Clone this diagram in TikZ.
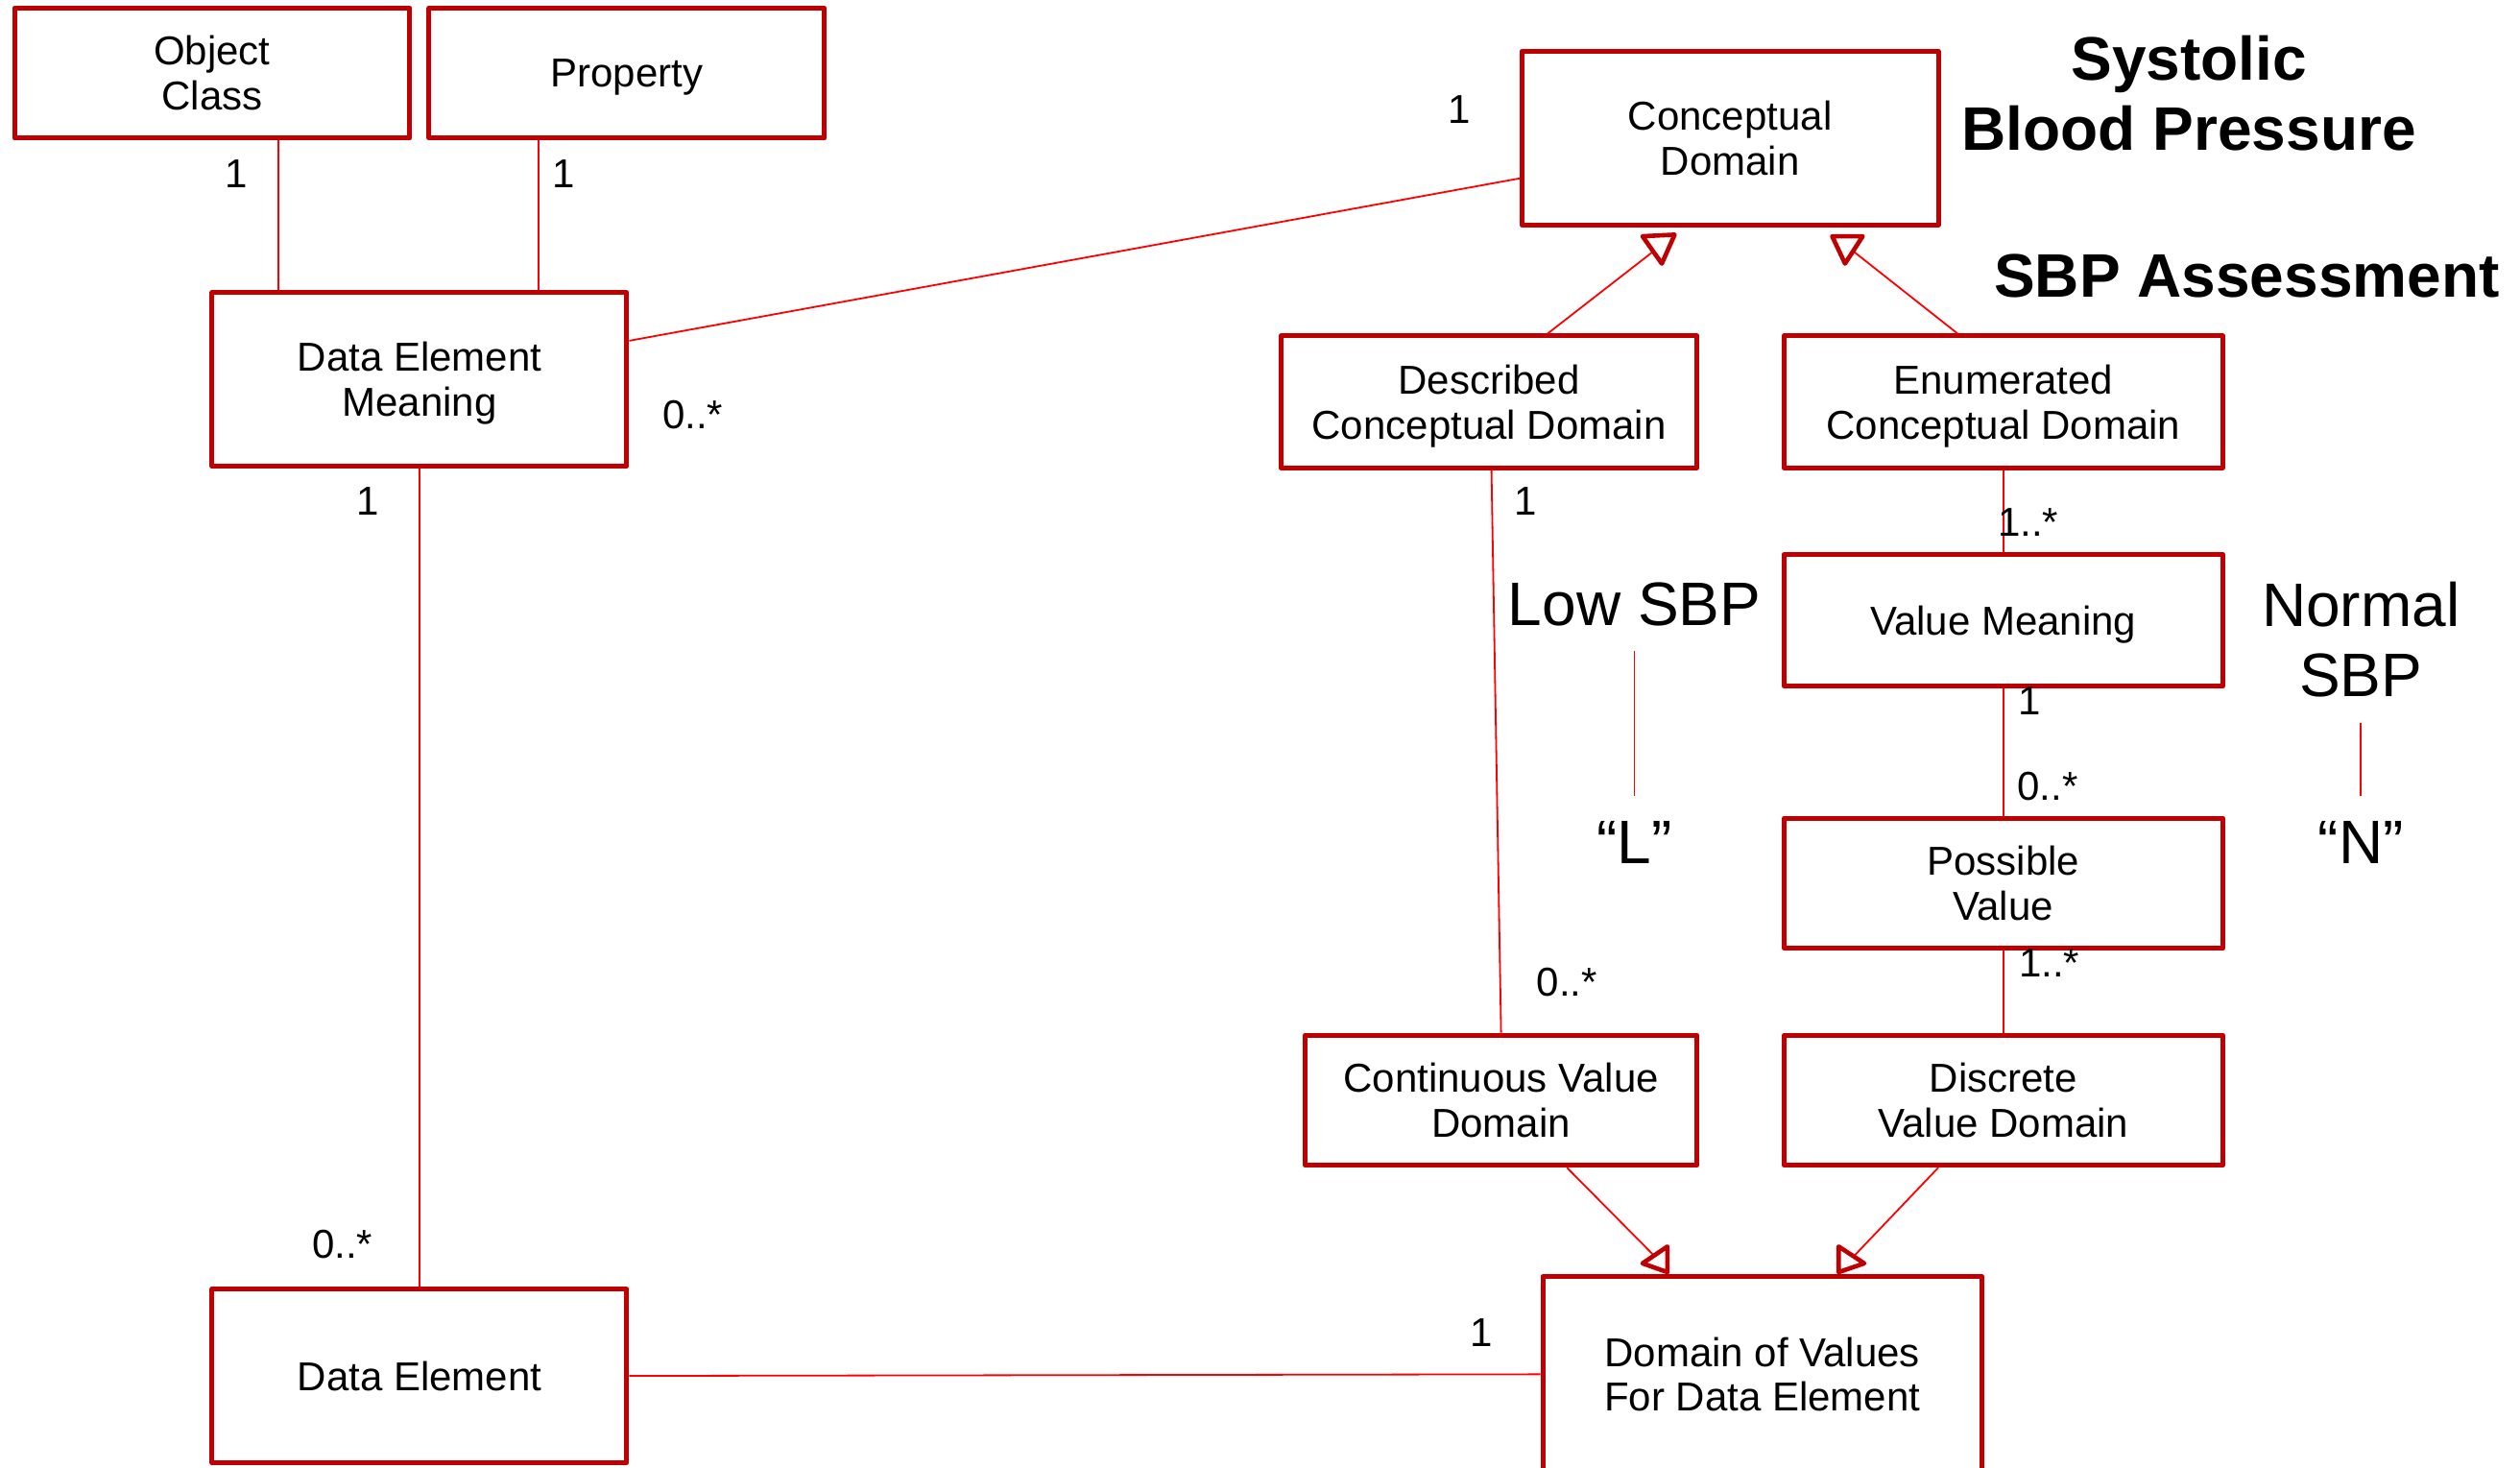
\documentclass[tikz,border=0pt]{standalone}
\usepackage{fontspec}
\setmainfont{Liberation Sans}
\newdimen\px \px=0.8371pt
\definecolor{boxred}{RGB}{192,0,0}
\definecolor{linkred}{RGB}{255,0,0}
\tikzset{
  umlbox/.style={draw=boxred, line width=2.5pt, line join=round, align=center,
    inner sep=0pt, text depth=0pt, font=\fontsize{21}{23.4}\selectfont},
  link/.style={draw=linkred, line width=0.9pt},
  mult/.style={inner sep=0pt, font=\fontsize{21}{24}\selectfont},
  big/.style={inner sep=0pt, align=center, font=\fontsize{32}{36.8}\selectfont},
  headline/.style={inner sep=0pt, align=center, font=\fontsize{32}{36.8}\selectfont\bfseries},
  genhead/.style={draw=boxred, line width=2.3pt, line join=round, fill=white},
}
\begin{document}
\begin{tikzpicture}[x=0.8371pt, y=-0.8371pt]
\useasboundingbox[fill=white] (0,0) rectangle (1568,913);

% classes
\node[umlbox, minimum width=246\px, minimum height=81\px] (oc) at (132,45.5) {Object\\Class};
\node[umlbox, minimum width=246\px, minimum height=81\px] (prop) at (390,45.5) {Property};
\node[umlbox, minimum width=258\px, minimum height=108\px] (dem) at (261,236) {Data Element\\Meaning};
\node[umlbox, minimum width=259\px, minimum height=108\px] (cd) at (1076.5,86) {Conceptual\\Domain};
\node[umlbox, minimum width=259\px, minimum height=82\px] (dcd) at (926.5,250) {Described\\Conceptual Domain};
\node[umlbox, minimum width=273\px, minimum height=82\px] (ecd) at (1246.5,250) {Enumerated\\Conceptual Domain};
\node[umlbox, minimum width=273\px, minimum height=82\px] (vm) at (1246.5,386) {Value Meaning};
\node[umlbox, minimum width=273\px, minimum height=81\px] (pv) at (1246.5,549.5) {Possible\\Value};
\node[umlbox, minimum width=244\px, minimum height=81\px] (cvd) at (934,684.5) {Continuous Value\\Domain};
\node[umlbox, minimum width=273\px, minimum height=81\px] (dvd) at (1246.5,684.5) {Discrete\\Value Domain};
\node[umlbox, minimum width=258\px, minimum height=108\px] (de) at (261,856) {Data Element};
\node[umlbox, minimum width=273\px, minimum height=122\px] (dov) at (1096.5,855) {Domain of Values\\For Data Element};

% associations
\draw[link] ([xshift=41\px]oc.south) -- ([xshift=-88\px]dem.north);
\draw[link] ([xshift=-55\px]prop.south) -- ([xshift=74\px]dem.north);
\draw[link] ([yshift=24\px]dem.east) -- ([yshift=-25\px]cd.west);
\draw[link] (dem.south) -- (de.north);
\draw[link] (de.east) -- (dov.west);
\draw[link] ([xshift=1.5\px]dcd.south) -- (cvd.north);
\draw[link] (ecd.south) -- (vm.north);
\draw[link] (vm.south) -- (pv.north);
\draw[link] (pv.south) -- (dvd.north);

% generalisations
\coordinate (gdcd) at (1028,157);
\coordinate (gecd) at (1154,157);
\coordinate (gcvd) at (1029,781);
\coordinate (gdvd) at (1154,781);
\draw[link] ([xshift=36.5\px]dcd.north) -- (gdcd);
\draw[link] ([xshift=-28.5\px]ecd.north) -- (gecd);
\draw[link] ([xshift=41\px]cvd.south) -- (gcvd);
\draw[link] ([xshift=-40.5\px]dvd.south) -- (gdvd);
\draw[genhead] (1022,147) -- (1042,146) -- (1034,164) -- cycle;
\draw[genhead] (1140,147) -- (1159,147) -- (1148,164) -- cycle;
\draw[genhead] (1022,786) -- (1037.5,775.5) -- (1037.5,791.5) -- cycle;
\draw[genhead] (1144,775.5) -- (1144,791.5) -- (1160,786) -- cycle;

% multiplicities
\node[mult] (m1) at (147,108) {1};
\node[mult] (m2) at (351,108) {1};
\node[mult] (m3) at (908,68) {1};
\node[mult] (m4) at (431,258) {0..*};
\node[mult] (m5) at (229,312) {1};
\node[mult] (m6) at (213,774) {0..*};
\node[mult] (m7) at (922,829) {1};
\node[mult] (m8) at (949,312) {1};
\node[mult] (m9) at (975,611) {0..*};
\node[mult] (m10) at (1262,325) {1..*};
\node[mult] (m11) at (1263,436) {1};
\node[mult] (m12) at (1274,489) {0..*};
\node[mult] (m13) at (1275,599) {1..*};

% example values
\node[headline] (sys) at (1362,58) {Systolic\\Blood Pressure};
\node[headline] (assess) at (1398,172) {SBP Assessment};
\node[big] (low) at (1017,376) {Low SBP};
\node[big] (lcode) at (1017,524) {“L”};
\draw[link] ([yshift=-29\px]low.center) -- ([yshift=29\px]lcode.center);
\node[big] (norm) at (1469,398) {Normal\\SBP};
\node[big] (ncode) at (1469,524) {“N”};
\draw[link] ([yshift=-52\px]norm.center) -- ([yshift=29\px]ncode.center);
\end{tikzpicture}
\end{document}
